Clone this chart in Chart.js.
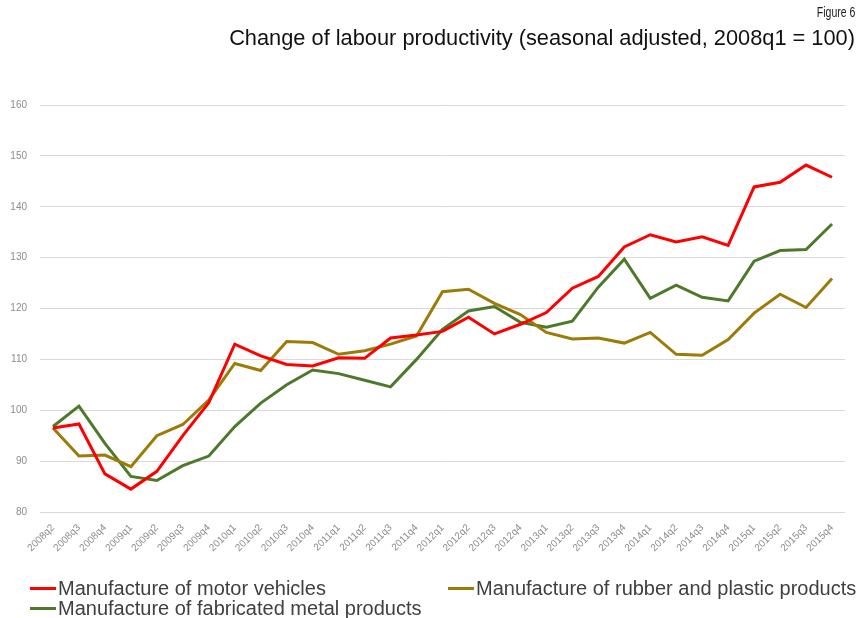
<!DOCTYPE html>
<html>
<head>
<meta charset="utf-8">
<script src="https://cdn.jsdelivr.net/npm/chart.js@4.4.1/dist/chart.umd.min.js"></script>
<style>
  html, body { margin: 0; padding: 0; background: #fff; }
  #wrap { position: relative; width: 858px; height: 618px; overflow: hidden; }
  #chart { position: absolute; left: 0; top: 0; }
  .fig { position: absolute; right: 3px; top: 4px; font: 14px "Liberation Sans", sans-serif; color: #222; transform: scaleX(0.75); transform-origin: right top; }
  .ttl { position: absolute; right: 3px; top: 25px; font: 21.8px "Liberation Sans", sans-serif; color: #111; white-space: nowrap; }
  .leg { position: absolute; display: flex; align-items: center; font: 20px "Liberation Sans", sans-serif; color: #404040; white-space: nowrap; }
  .leg i { display: inline-block; width: 26px; height: 3px; margin-right: 2px; }
</style>
</head>
<body>
<div id="wrap">
  <canvas id="chart" width="858" height="618"></canvas>
  <div class="fig">Figure 6</div>
  <div class="ttl">Change of labour productivity (seasonal adjusted, 2008q1 = 100)</div>
  <div id="legend"></div>
</div>
<script>
// quarters 2008q2 .. 2015q4
const quarters = [
  "2008q2", "2008q3", "2008q4",
  "2009q1", "2009q2", "2009q3", "2009q4",
  "2010q1", "2010q2", "2010q3", "2010q4",
  "2011q1", "2011q2", "2011q3", "2011q4",
  "2012q1", "2012q2", "2012q3", "2012q4",
  "2013q1", "2013q2", "2013q3", "2013q4",
  "2014q1", "2014q2", "2014q3", "2014q4",
  "2015q1", "2015q2", "2015q3", "2015q4",
];

const motorVehicles = [
  96.5, 97.3, 87.5,
  84.5, 88.0, 95.0, 101.5,
  113.0, 110.7, 109.0, 108.7,
  110.3, 110.2, 114.2, 114.8,
  115.5, 118.3, 115.0, 116.9,
  119.2, 124.0, 126.3, 132.1,
  134.5, 133.1, 134.1, 132.4,
  143.9, 144.8, 148.2, 145.8,
];

const rubberPlastic = [
  96.5, 91.0, 91.2,
  88.9, 95.0, 97.2, 102.0,
  109.2, 107.8, 113.5, 113.3,
  111.0, 111.7, 113.0, 114.6,
  123.3, 123.8, 121.0, 118.8,
  115.3, 114.0, 114.2, 113.2,
  115.3, 111.0, 110.8, 113.9,
  119.1, 122.8, 120.2, 125.9,
];

const fabricatedMetal = [
  96.8, 100.8, 93.5,
  87.0, 86.2, 89.1, 91.0,
  96.8, 101.4, 105.0, 107.9,
  107.2, 105.9, 104.6, 110.0,
  115.9, 119.5, 120.4, 117.3,
  116.3, 117.5, 124.2, 129.7,
  122.0, 124.6, 122.2, 121.5,
  129.3, 131.4, 131.6, 136.6,
];

const seriesNames = [
  "Manufacture of motor vehicles",
  "Manufacture of rubber and plastic products",
  "Manufacture of fabricated metal products",
];

const COLOR = {
  motor:  "#ff0000",
  rubber: "#9c7b06",
  metal:  "#4c7a2a",
  grid:   "#d9d9d9",
  tick:   "#8c8c8c",
};

const yTicks = [80, 90, 100, 110, 120, 130, 140, 150, 160];

function line(label, data, color) {
  return { label, data, borderColor: color, backgroundColor: color, borderWidth: 3, pointRadius: 0, tension: 0 };
}

const datasets = [
  line(seriesNames[0], motorVehicles, COLOR.motor),
  line(seriesNames[1], rubberPlastic, COLOR.rubber),
  line(seriesNames[2], fabricatedMetal, COLOR.metal),
];

new Chart(document.getElementById("chart"), {
  type: "line",
  data: { labels: quarters, datasets },
  options: {
    responsive: false,
    animation: false,
    layout: { padding: { left: 0, right: 13, top: 105, bottom: 56 } },
    plugins: { legend: { display: false }, title: { display: false }, tooltip: { enabled: false } },
    scales: {
      x: {
        offset: true,
        grid: { display: false },
        border: { display: false },
        ticks: { color: COLOR.tick, font: { family: "'Liberation Sans'", size: 10 }, maxRotation: 45, minRotation: 45, autoSkip: false, padding: 2 },
        afterFit: (s) => { s.height = 50; },
      },
      y: {
        min: 80,
        max: 160,
        afterBuildTicks: (s) => { s.ticks = yTicks.map((v) => ({ value: v })); },
        grid: { color: COLOR.grid, lineWidth: 1, drawTicks: false },
        border: { display: false },
        ticks: { color: COLOR.tick, font: { family: "'Liberation Sans'", size: 10 }, padding: 13 },
        afterFit: (s) => { s.width = 40; },
      },
    },
  },
});

// legend, laid out like the original (two columns, wraps to a second row)
const legendPos = [
  { left: 30, top: 577 },
  { left: 448, top: 577 },
  { left: 30, top: 597 },
];
const legendColors = [COLOR.motor, COLOR.rubber, COLOR.metal];
document.getElementById("legend").innerHTML = seriesNames.map((name, i) =>
  `<div class="leg" style="left:${legendPos[i].left}px;top:${legendPos[i].top}px"><i style="background:${legendColors[i]}"></i>${name}</div>`
).join("");
</script>
</body>
</html>
